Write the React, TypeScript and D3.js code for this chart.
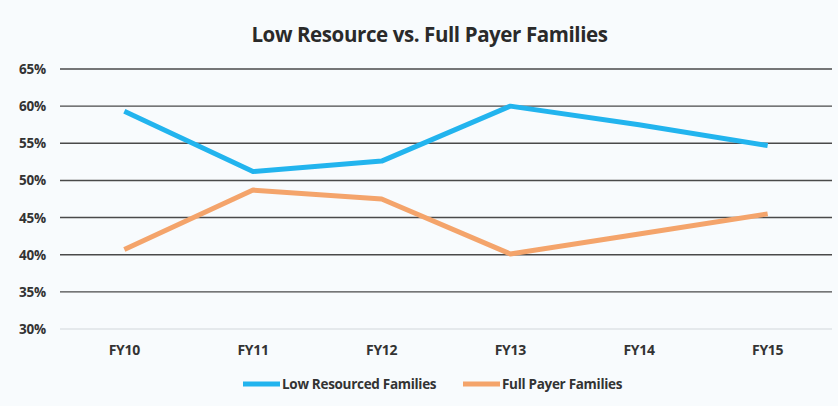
import React from "react";
import * as d3 from "d3";

const categories = ["FY10", "FY11", "FY12", "FY13", "FY14", "FY15"];
const lowResourced = [59.3, 51.2, 52.6, 60.0, 57.5, 54.7];
const fullPayer = [40.7, 48.7, 47.5, 40.1, 42.8, 45.5];
const yTicks = [30, 35, 40, 45, 50, 55, 60, 65];
const seriesNames = ["Low Resourced Families", "Full Payer Families"];
const seriesColors = ["#22b4ee", "#f4a46b"];

const W = 838;
const H = 406;
const margin = { left: 60, right: 6, top: 69, bottom: 77 };

export default function App() {
  const x = d3
    .scaleBand<string>()
    .domain(categories)
    .range([margin.left, W - margin.right])
    .paddingInner(0)
    .paddingOuter(0);
  const y = d3.scaleLinear().domain([30, 65]).range([H - margin.bottom, margin.top]);
  const line = d3
    .line<number>()
    .x((_, i) => (x(categories[i]) as number) + x.bandwidth() / 2)
    .y((d) => y(d));
  const font = "'Open Sans', 'Liberation Sans', sans-serif";
  const series = [lowResourced, fullPayer];
  const legendX = [243, 463];
  return (
    <svg
      width={W}
      height={H}
      style={{ position: "absolute", left: 0, top: 0, background: "#f8fbfd" }}
      fontFamily={font}
    >
      <rect x={0} y={0} width={W} height={H} fill="#f8fbfd" />
      <text
        x={429.5}
        y={42}
        textAnchor="middle"
        fontSize={20.5}
        fontWeight="bold"
        fill="#2a2a2a"
        letterSpacing={-0.4}
      >
        Low Resource vs. Full Payer Families
      </text>
      {yTicks.map((t) => (
        <g key={t}>
          <line
            x1={margin.left}
            x2={W - margin.right}
            y1={y(t)}
            y2={y(t)}
            stroke={t === 30 ? "#dfe3e6" : "#4a4a4a"}
            strokeWidth={1.4}
          />
          <text
            x={46}
            y={y(t) + 5}
            textAnchor="end"
            fontSize={13.5}
            fontWeight="bold"
            fill="#333"
            letterSpacing={-0.2}
          >
            {t}%
          </text>
        </g>
      ))}
      {categories.map((c) => (
        <text
          key={c}
          x={(x(c) as number) + x.bandwidth() / 2}
          y={355}
          textAnchor="middle"
          fontSize={14}
          fontWeight="bold"
          fill="#333"
          letterSpacing={-0.3}
        >
          {c}
        </text>
      ))}
      {series.map((s, i) => (
        <path
          key={i}
          d={line(s) as string}
          fill="none"
          stroke={seriesColors[i]}
          strokeWidth={5}
          strokeLinejoin="round"
        />
      ))}
      {seriesNames.map((n, i) => (
        <g key={n}>
          <line
            x1={legendX[i]}
            x2={legendX[i] + 37}
            y1={384}
            y2={384}
            stroke={seriesColors[i]}
            strokeWidth={5}
          />
          <text
            x={legendX[i] + 39}
            y={389}
            fontSize={13.5}
            fontWeight="bold"
            fill="#333"
            letterSpacing={-0.3}
          >
            {n}
          </text>
        </g>
      ))}
    </svg>
  );
}
